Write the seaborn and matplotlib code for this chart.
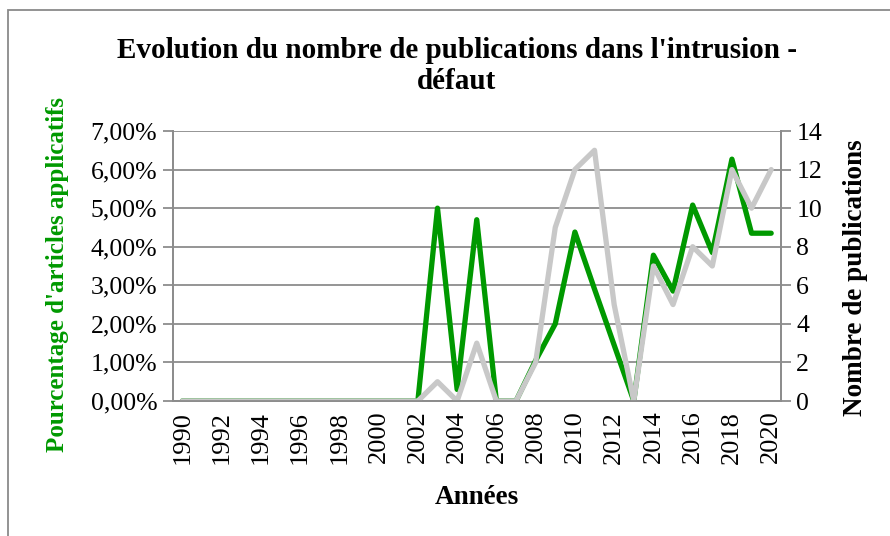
import numpy as np
import pandas as pd
import seaborn as sns
import matplotlib.pyplot as plt
from matplotlib.patches import Rectangle
from matplotlib.ticker import FixedLocator, FuncFormatter

# Data
years = list(range(1990, 2021))
pct_applicatifs = [0, 0, 0, 0, 0, 0, 0, 0, 0, 0, 0, 0,
                   0, 5.0, 0.3, 4.7, 0, 0, 1.05, 2.0, 4.38, 2.9, 1.45,
                   0, 3.78, 2.85, 5.08, 3.85, 6.27, 4.35, 4.35]
nb_publications = [0, 0, 0, 0, 0, 0, 0, 0, 0, 0, 0, 0,
                   0, 1, 0, 3, 0, 0, 2, 9, 12, 13, 5,
                   0, 7, 5, 8, 7, 12, 10, 12]

df = pd.DataFrame({'annee': years, 'pct': pct_applicatifs, 'nb': nb_publications})

sns.set_style("white")
plt.rcParams['font.family'] = ['Liberation Serif', 'DejaVu Serif']
plt.rcParams['text.color'] = 'black'
plt.rcParams['xtick.labelcolor'] = 'black'
plt.rcParams['ytick.labelcolor'] = 'black'

GREEN = '#009900'
GREY_LINE = '#c8c8c8'
AXIS = '#8c8c8c'

fig = plt.figure(figsize=(8.9, 5.36), dpi=100)
ax = fig.add_axes([172.5 / 890, 1 - 401 / 536, 608.5 / 890, 270 / 536])
ax2 = ax.twinx()

sns.lineplot(data=df, x='annee', y='pct', color=GREEN, lw=3.8, ax=ax)
sns.lineplot(data=df, x='annee', y='nb', color=GREY_LINE, lw=3.8, ax=ax2)

ax.set_xlim(1989.5, 2020.5)
ax.set_ylim(0, 7)
ax2.set_ylim(0, 14)
ax.set_yticks(np.arange(0, 8, 1))
ax2.set_yticks(np.arange(0, 15, 2))
ax.yaxis.set_major_formatter(FuncFormatter(lambda v, p: f"{v:.2f}%".replace('.', ',')))

# labels every two years, tick marks between categories
ax.set_xticks(years[::2])
ax.set_xticklabels([str(y) for y in years[::2]], rotation=90)
ax.xaxis.set_minor_locator(FixedLocator(np.arange(1989.5, 2021, 1)))
ax.tick_params(axis='x', which='major', length=0, pad=7, labelsize=19, labelcolor='black')
ax.tick_params(axis='x', which='minor', length=7, width=1.3, color=AXIS, direction='out')
ax.tick_params(axis='y', length=7, width=1.3, color=AXIS, direction='out', labelsize=18.5,
               pad=4, labelcolor='black')
ax2.tick_params(axis='y', length=7, width=1.3, color=AXIS, direction='out', labelsize=18.5,
                pad=4, labelcolor='black')

ax.grid(axis='y', color=AXIS, lw=1.3)
ax.set_axisbelow(True)
for a in (ax, ax2):
    a.spines['top'].set_visible(False)
    for s in ('left', 'right', 'bottom'):
        a.spines[s].set_color(AXIS)
        a.spines[s].set_linewidth(1.3)
ax.set_xlabel('')
ax.set_ylabel('')
ax2.set_ylabel('')

fig.text(0.513, 0.877, "Evolution du nombre de publications dans l'intrusion -\ndéfaut",
         ha='center', va='center', fontsize=21, fontweight='bold', linespacing=1.15)
fig.text(58 / 890, 1 - 274 / 536, "Pourcentage d'articles applicatifs", rotation=90,
         ha='center', va='center', fontsize=18, fontweight='bold', color=GREEN)
fig.text(855 / 890, 1 - 278 / 536, "Nombre de publications", rotation=90,
         ha='center', va='center', fontsize=19.5, fontweight='bold', color='black')
fig.text(477 / 890, 1 - 497 / 536, "Années", ha='center', va='center',
         fontsize=19.5, fontweight='bold')

# chart frame
fig.patches.append(Rectangle((8 / 890, -0.1), 1.2, 0.1 + (1 - 10 / 536),
                             transform=fig.transFigure, fill=False,
                             edgecolor='#8a8a8a', lw=1.3))

fig.savefig('out.png', dpi=100)
